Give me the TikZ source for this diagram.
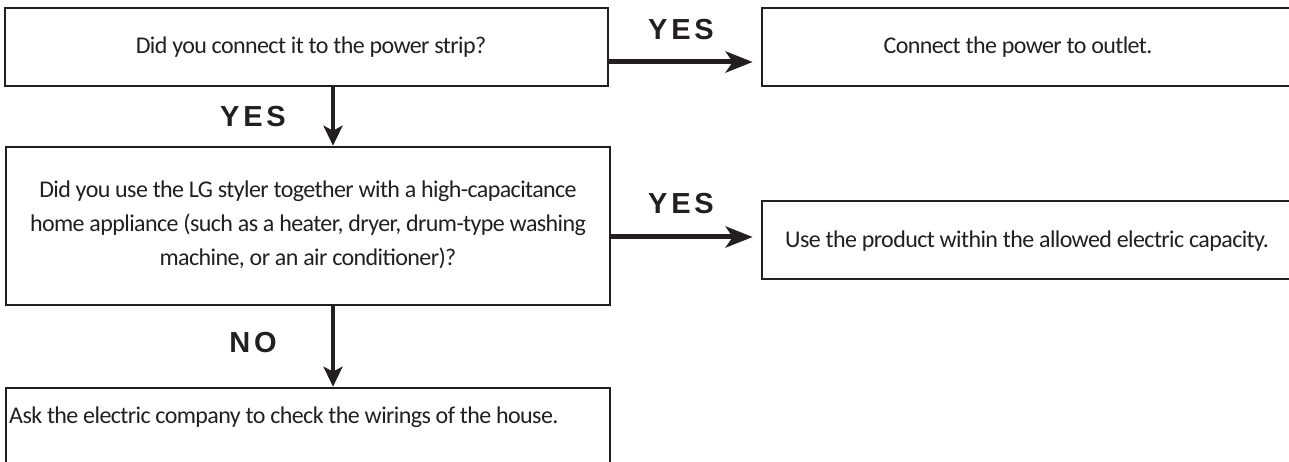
\documentclass[tikz,border=0pt]{standalone}
\usepackage{fontspec}
\setmainfont{Carlito}[LetterSpace=-2.5]
\newfontfamily\lblfont{Liberation Sans}[LetterSpace=13]
\usetikzlibrary{arrows.meta}
\definecolor{ink}{HTML}{231F20}
\tikzset{
  box/.style={draw=ink, line width=2.6pt, inner sep=0pt, minimum height=78pt},
  txt/.style={text=ink, font=\fontsize{24}{34}\selectfont, inner sep=0pt},
  lbl/.style={text=ink, font=\lblfont\bfseries\fontsize{29}{30}\selectfont, inner sep=0pt},
  harrow/.style={draw=ink, line width=5pt, -{Stealth[length=27pt,width=21pt,inset=7pt]}},
  varrow/.style={draw=ink, line width=3.6pt, -{Stealth[length=20pt,width=19pt,inset=5pt]}}
}
\begin{document}
\begin{tikzpicture}[x=1pt,y=-1pt]
\useasboundingbox (0,0) rectangle (1289,462);
\clip (0,0) rectangle (1289,462);
% boxes
\node[box, minimum width=603pt] (q1) at (306.5,47) {};
\node[box, minimum width=540pt] (a1) at (1032,47) {};
\node[box, minimum width=604pt, minimum height=158pt] (q2) at (308,226) {};
\node[box, minimum width=540pt] (a2) at (1032,240) {};
\node[box, minimum width=604pt] (a3) at (308,427) {};
% texts
\node[txt] (t1) at (311,47) {Did you connect it to the power strip?};
\node[txt] (t2) at (1018,47) {Connect the power to outlet.};
\node[txt, align=center] (t3) at (308,225) {Did you use the LG styler together with a high-capacitance\\home appliance (such as a heater, dryer, drum-type washing\\machine, or an air conditioner)?};
\node[txt, anchor=west] (t4) at (785,241) {Use the product within the allowed electric capacity.};
\node[txt, anchor=west] (t5) at (9,417) {Ask the electric company to check the wirings of the house.};
% connectors
\coordinate (d1) at (333,0);
\draw[varrow] (q1.south -| d1) -- (q2.north -| d1);
\draw[varrow] (q2.south -| d1) -- (a3.north -| d1);
\coordinate (h1) at (0,62);
\coordinate (h2) at (0,237);
\draw[harrow] (q1.east |- h1) -- ([xshift=-8pt]a1.west |- h1);
\draw[harrow] (q2.east |- h2) -- ([xshift=-8pt]a2.west |- h2);
% labels
\node[lbl] (y1) at (681,30) {YES};
\node[lbl] (y2) at (681,204) {YES};
\node[lbl] (y3) at (253,117) {YES};
\node[lbl] (n1) at (253,343) {NO};
\end{tikzpicture}
\end{document}
